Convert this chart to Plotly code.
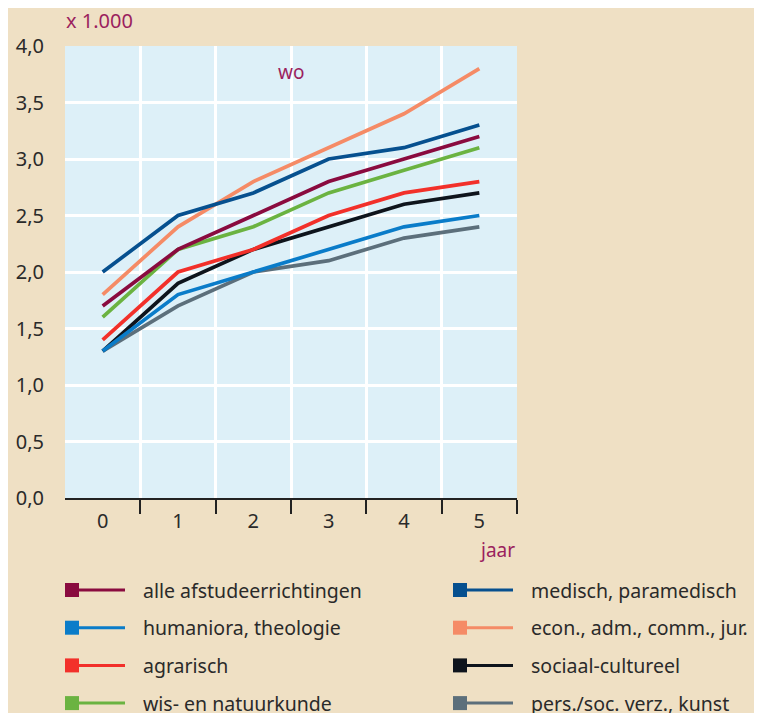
import plotly.graph_objects as go

# Data (x 1.000), per jaar na afstuderen
jaren = [0, 1, 2, 3, 4, 5]
alle = [1.7, 2.2, 2.5, 2.8, 3.0, 3.2]
humaniora = [1.3, 1.8, 2.0, 2.2, 2.4, 2.5]
agrarisch = [1.4, 2.0, 2.2, 2.5, 2.7, 2.8]
wis_natuur = [1.6, 2.2, 2.4, 2.7, 2.9, 3.1]
medisch = [2.0, 2.5, 2.7, 3.0, 3.1, 3.3]
econ = [1.8, 2.4, 2.8, 3.1, 3.4, 3.8]
sociaal = [1.3, 1.9, 2.2, 2.4, 2.6, 2.7]
pers_kunst = [1.3, 1.7, 2.0, 2.1, 2.3, 2.4]

reeksen = [
    ("alle afstudeerrichtingen", alle, "#8A0B3F"),
    ("humaniora, theologie", humaniora, "#0A7CC9"),
    ("agrarisch", agrarisch, "#F2302A"),
    ("wis- en natuurkunde", wis_natuur, "#6BB341"),
    ("medisch, paramedisch", medisch, "#06508F"),
    ("econ., adm., comm., jur.", econ, "#F58B66"),
    ("sociaal-cultureel", sociaal, "#0E141C"),
    ("pers./soc. verz., kunst", pers_kunst, "#5C6F7B"),
]

bg = "#EFE0C4"
plotbg = "#DDF0F8"
accent = "#9B1F5E"
font = "Noto Sans"

fig = go.Figure()
# draw order: lowest first so that upper lines sit on top
for naam, waarden, kleur in reversed(reeksen):
    fig.add_trace(go.Scatter(x=jaren, y=waarden, mode="lines", name=naam,
                             line=dict(color=kleur, width=3.7), showlegend=False))

# custom legend (square + line), two columns
shapes = []
annotations = []
sq = 14 / 452
for i, (naam, waarden, kleur) in enumerate(reeksen):
    col = i // 4
    row = i % 4
    x0 = 0.0 if col == 0 else (453 - 65) / 452
    yc = -(590 - 498) / 452 - row * (37.7 / 452)
    shapes.append(dict(type="rect", xref="paper", yref="paper",
                       x0=x0, x1=x0 + sq, y0=yc - sq / 2, y1=yc + sq / 2,
                       fillcolor=kleur, line=dict(width=0)))
    shapes.append(dict(type="line", xref="paper", yref="paper",
                       x0=x0 + sq, x1=x0 + 60 / 452, y0=yc, y1=yc,
                       line=dict(color=kleur, width=3)))
    annotations.append(dict(text=naam, xref="paper", yref="paper",
                            x=x0 + 76 / 452, y=yc, xanchor="left", yanchor="middle",
                            showarrow=False, font=dict(size=19.5, color="#2a2a2a", family=font)))

annotations += [
    dict(text="x 1.000", xref="paper", yref="paper", x=-1 / 452, y=(498 - 20) / 452,
         xanchor="left", yanchor="middle", showarrow=False,
         font=dict(size=20, color=accent, family=font)),
    dict(text="wo", xref="x", yref="paper", x=2.5, y=(498 - 72) / 452,
         xanchor="center", yanchor="middle", showarrow=False,
         font=dict(size=19, color=accent, family=font)),
    dict(text="jaar", xref="paper", yref="paper", x=1.0, y=-(550 - 498) / 452,
         xanchor="right", yanchor="middle", showarrow=False,
         font=dict(size=19, color=accent, family=font)),
]

# page puts the figure 8px in from the corner, so margins are shifted by 8
fig.update_layout(
    template="none",
    width=754, height=713,
    margin=dict(l=57, r=245, t=38, b=223, autoexpand=False),
    paper_bgcolor=bg, plot_bgcolor=plotbg,
    separators=",.",
    font=dict(family=font, size=20, color="#2a2a2a"),
    shapes=shapes, annotations=annotations,
    xaxis=dict(range=[-0.5, 5.5], tickvals=jaren, showgrid=False, zeroline=False,
               showline=True, linecolor="#222", linewidth=1.5, automargin=False,
               ticks="outside", ticklen=0, ticklabelstandoff=4,
               minor=dict(tickmode="array", tickvals=[0.5, 1.5, 2.5, 3.5, 4.5, 5.5],
                          showgrid=True, gridcolor="white", gridwidth=2.5,
                          ticks="outside", ticklen=14, tickcolor="#222", tickwidth=1.5),
               fixedrange=True),
    yaxis=dict(range=[0, 4.0], dtick=0.5, tickformat=".1f", showgrid=True,
               gridcolor="white", gridwidth=2.5, zeroline=False, showline=False,
               automargin=False, ticks="", ticklabelstandoff=20, fixedrange=True),
)

fig.write_html("out.html")
